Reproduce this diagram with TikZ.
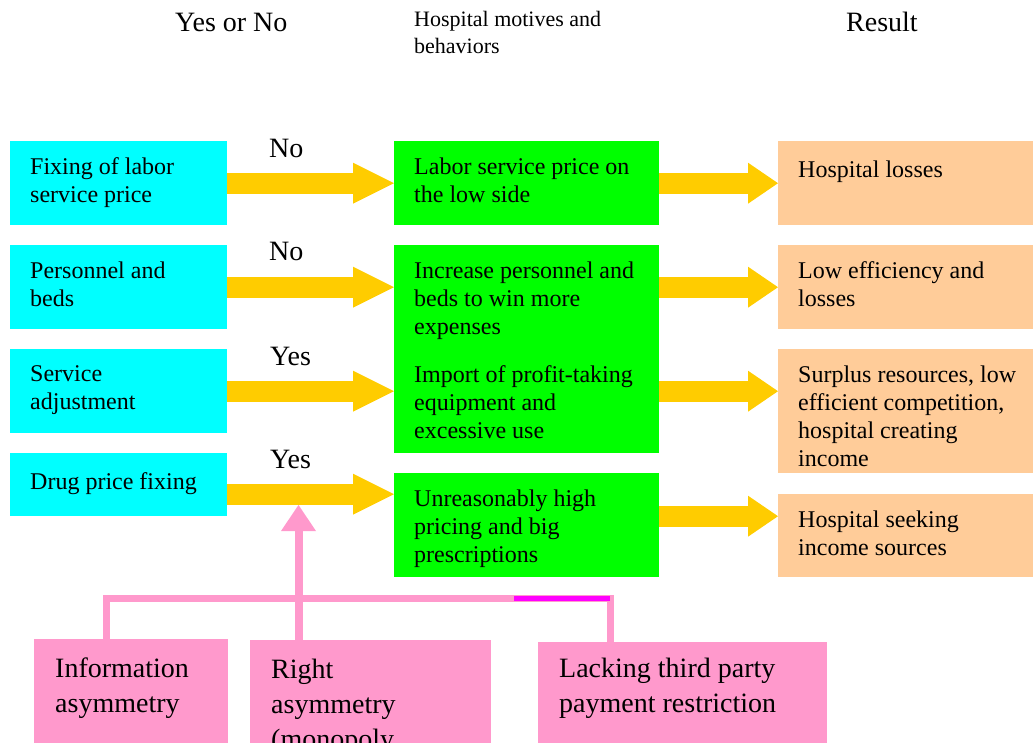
\documentclass[tikz,border=0pt]{standalone}
\usepackage{fontspec}
\setmainfont{Liberation Serif}
\usetikzlibrary{arrows.meta}
\definecolor{boxcyan}{HTML}{00FFFF}
\definecolor{boxgreen}{HTML}{00FF00}
\definecolor{boxorange}{HTML}{FFCC99}
\definecolor{boxpink}{HTML}{FF99CC}
\definecolor{arrowyellow}{HTML}{FFCC00}
\definecolor{linemagenta}{HTML}{FF00FF}
\tikzset{
  box/.style={anchor=north west,inner sep=0pt},
  cbox/.style={box,fill=boxcyan,minimum width=217pt},
  gbox/.style={box,fill=boxgreen,minimum width=265pt},
  obox/.style={box,fill=boxorange,minimum width=255pt},
  pbox/.style={box,fill=boxpink,minimum height=125pt},
  txt/.style={anchor=north west,align=left,inner xsep=20pt,inner ysep=16.4pt,
    font=\fontsize{24}{28}\selectfont,execute at begin node=\strut},
  ptxt/.style={txt,inner xsep=21pt,inner ysep=19pt,font=\fontsize{28}{35}\selectfont},
  hdr/.style={anchor=north west,inner sep=0pt,align=left,execute at begin node=\strut},
  yesno/.style={hdr,font=\fontsize{28}{34}\selectfont},
  yarrow/.style={arrowyellow,line width=21pt,-{Triangle[length=41pt,width=41pt,line width=0pt]}},
  yarrowb/.style={yarrow,-{Triangle[length=30pt,width=41pt,line width=0pt]}},
  parrow/.style={boxpink,line width=8pt,-{Triangle[length=26pt,width=35pt,line width=0pt]}},
  pline/.style={boxpink,line width=7pt},
  mline/.style={linemagenta,line width=5pt}
}
\begin{document}
\begin{tikzpicture}[x=1pt,y=-1pt]
  \useasboundingbox (0,0) rectangle (1033,742);
  \clip (0,0) rectangle (1033,742);
  \node[yesno] (h1) at (175,7.2) {Yes or No};
  \node[hdr,font=\fontsize{22}{27}\selectfont] (h2) at (414,11) {Hospital motives and\\behaviors};
  \node[yesno] (h3) at (846,7.2) {Result};

  \node[cbox,minimum height=84pt,label={[txt]north west:{Fixing of labor\\service price}}] (c1) at (10,141) {};
  \node[cbox,minimum height=84pt,label={[txt]north west:{Personnel and\\beds}}] (c2) at (10,245) {};
  \node[cbox,minimum height=84pt,label={[txt]north west:{Service\\adjustment}}] (c3) at (10,349) {};
  \node[cbox,minimum height=63pt,label={[txt]north west:{Drug price fixing}}] (c4) at (10,453) {};

  \node[gbox,minimum height=84pt,label={[txt]north west:{Labor service price on\\the low side}}] (g1) at (394,141) {};
  \node[gbox,minimum height=104pt,label={[txt]north west:{Increase personnel and\\beds to win more\\expenses}}] (g2) at (394,245) {};
  \node[gbox,minimum height=104pt,label={[txt]north west:{Import of profit-taking\\equipment and\\excessive use}}] (g3) at (394,349) {};
  \node[gbox,minimum height=104pt,label={[txt]north west:{Unreasonably high\\pricing and big\\prescriptions}}] (g4) at (394,473) {};

  \node[obox,minimum height=84pt,label={[txt]north west:{Hospital losses}}] (o1) at (778,141) {};
  \node[obox,minimum height=84pt,label={[txt]north west:{Low efficiency and\\losses}}] (o2) at (778,245) {};
  \node[obox,minimum height=124pt,label={[txt]north west:{Surplus resources, low\\efficient competition,\\hospital creating\\income}}] (o3) at (778,349) {};
  \node[obox,minimum height=83pt,label={[txt]north west:{Hospital seeking\\income sources}}] (o4) at (778,494) {};

  \node[pbox,minimum width=194pt,label={[ptxt]north west:{Information\\asymmetry}}] (r1) at (34,639) {};
  \node[pbox,minimum width=241pt,label={[ptxt]north west:{Right\\asymmetry\\(monopoly}}] (r2) at (250,640) {};
  \node[pbox,minimum width=289pt,label={[ptxt,inner ysep=16pt]north west:{Lacking third party\\payment restriction}}] (r3) at (538,642) {};

  \node[yesno] (n1) at (269,133.2) {No};
  \node[yesno] (n2) at (269,236.2) {No};
  \node[yesno] (n3) at (270,341.2) {Yes};
  \node[yesno] (n4) at (270,444.2) {Yes};

  \draw[yarrow] (c1.east) -- (g1.west |- c1.east);
  \draw[yarrow] (c2.east) -- (g2.west |- c2.east);
  \draw[yarrow] (c3.east) -- (g3.west |- c3.east);
  \draw[yarrow] ([yshift=-9.5pt]c4.east) -- ([yshift=-9.5pt]c4.east -| g4.west);
  \draw[yarrowb] (g1.east) -- (o1.west);
  \draw[yarrowb] (g2.east |- c2.east) -- (o2.west |- c2.east);
  \draw[yarrowb] (g3.east |- c3.east) -- (o3.west |- c3.east);
  \draw[yarrowb] ([yshift=9pt]g4.east) -- ([yshift=9pt]g4.east -| o4.west);

  \coordinate (tip) at (298.5,505);
  \coordinate (bl) at (106.5,598.5);
  \coordinate (br) at (610,598.5);
  \draw[pline] (bl |- r1.north) -- (bl) -- (br) -- (br |- r3.north);
  \draw[mline] (514,598.5) -- (br);
  \draw[parrow] (tip |- r2.north) -- (tip);
\end{tikzpicture}
\end{document}
